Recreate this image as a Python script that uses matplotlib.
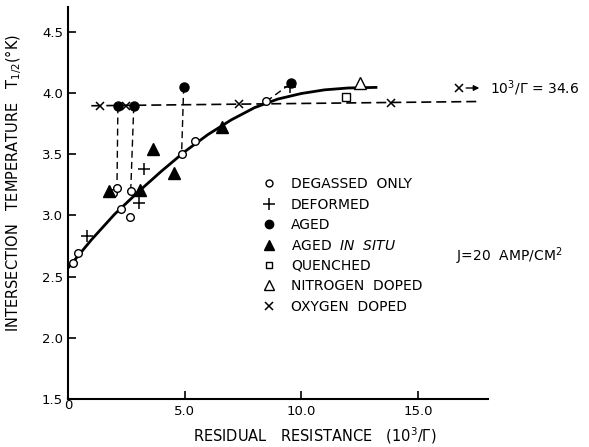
import matplotlib
matplotlib.use('Agg')
import matplotlib.pyplot as plt
from matplotlib.lines import Line2D

# degassed only (open circles)
degassed_x = [0.21, 0.43, 1.93, 2.10, 2.27, 2.65, 2.69, 4.87, 5.43, 8.50]
degassed_y = [2.61, 2.69, 3.18, 3.22, 3.05, 2.99, 3.20, 3.50, 3.61, 3.93]
# deformed (+)
deformed_x = [0.81, 3.03, 3.25, 9.50]
deformed_y = [2.83, 3.10, 3.38, 4.05]
# aged (filled circles)
aged_x = [2.14, 2.82, 4.96, 9.57]
aged_y = [3.89, 3.89, 4.05, 4.08]
# aged in situ (filled triangles)
insitu_x = [1.74, 3.08, 3.63, 4.53, 6.62]
insitu_y = [3.20, 3.21, 3.54, 3.35, 3.72]
# quenched, nitrogen doped
quenched_x, quenched_y = [11.9], [3.97]
nitrogen_x, nitrogen_y = [12.5], [4.08]
# oxygen doped (x)
oxygen_x = [1.37, 2.50, 7.35, 13.85]
oxygen_y = [3.89, 3.89, 3.91, 3.92]

# smooth curve
curve_x = [0, 1, 2, 3, 4, 5, 6, 7, 8, 9, 10, 11, 12, 13.2]
curve_y = [2.57, 2.80, 3.01, 3.19, 3.36, 3.52, 3.66, 3.78, 3.88, 3.95, 3.995, 4.025, 4.04, 4.045]

# horizontal dashed level (oxygen doped, 10^3/Gamma = 34.6)
level_x = [1.0, 17.7]
level_y = [3.895, 3.93]

# dashed connectors: aged -> degassed
links = [((2.14, 2.10), (3.89, 3.22)),
         ((2.82, 2.69), (3.89, 3.20)),
         ((4.96, 4.87), (4.05, 3.50)),
         ((8.50, 9.57), (3.93, 4.08))]

fig = plt.figure(figsize=(5.89, 4.47), dpi=100)
ax = fig.add_axes([0.1154, 0.107, 0.713, 0.877])

ax.plot(curve_x, curve_y, color='black', lw=2.0, zorder=2)
ax.plot(level_x, level_y, color='black', lw=1.2, dashes=(6, 3), zorder=1)
for lx, ly in links:
    ax.plot(lx, ly, color='black', lw=1.0, dashes=(5, 3), zorder=1)

mk = dict(color='black', linestyle='none', zorder=3)
ax.plot(degassed_x, degassed_y, marker='o', mfc='white', mec='black', ms=5.5, mew=1.0, **mk)
ax.plot(deformed_x, deformed_y, marker='+', ms=8, mew=1.1, **mk)
ax.plot(aged_x, aged_y, marker='o', ms=6.5, **mk)
ax.plot(insitu_x, insitu_y, marker='^', ms=8, **mk)
ax.plot(quenched_x, quenched_y, marker='s', mfc='white', mec='black', ms=5.5, mew=1.0, **mk)
ax.plot(nitrogen_x, nitrogen_y, marker='^', mfc='white', mec='black', ms=8, mew=1.0, **mk)
ax.plot(oxygen_x, oxygen_y, marker='x', ms=6, mew=1.1, **mk)

# note at right
ax.plot([16.75], [4.04], marker='x', ms=6, mew=1.1, **mk, clip_on=False)
ax.annotate('', xy=(17.75, 4.04), xytext=(16.95, 4.04),
            arrowprops=dict(arrowstyle='-|>', color='black', lw=1.0, mutation_scale=8),
            annotation_clip=False)
ax.text(18.1, 4.04, r'10$^3$/Γ = 34.6', fontsize=10, va='center', ha='left', clip_on=False)

ax.text(18.9, 2.67, r'J=20  AMP/CM$^2$', fontsize=10, ha='center', va='center', clip_on=False)

handles = [
    Line2D([], [], marker='o', mfc='white', mec='black', ms=5, linestyle='none'),
    Line2D([], [], marker='+', color='black', ms=8, mew=1.1, linestyle='none'),
    Line2D([], [], marker='o', color='black', ms=6, linestyle='none'),
    Line2D([], [], marker='^', color='black', ms=7, linestyle='none'),
    Line2D([], [], marker='s', mfc='white', mec='black', ms=5, linestyle='none'),
    Line2D([], [], marker='^', mfc='white', mec='black', ms=7, linestyle='none'),
    Line2D([], [], marker='x', color='black', ms=6, mew=1.1, linestyle='none'),
]
labels = ['DEGASSED  ONLY', 'DEFORMED', 'AGED', r'AGED  $\mathit{IN\ \ SITU}$',
          'QUENCHED', 'NITROGEN  DOPED', 'OXYGEN  DOPED']
ax.legend(handles, labels, loc='upper left', bbox_to_anchor=(0.445, 0.58),
          frameon=False, fontsize=10, handlelength=1.2, handletextpad=1.0,
          labelspacing=0.46, borderaxespad=0)

ax.set_xlim(0, 18)
ax.set_ylim(1.5, 4.7)
ax.set_xticks([5, 10, 15])
ax.set_xticklabels(['5.0', '10.0', '15.0'])
ax.set_yticks([1.5, 2.0, 2.5, 3.0, 3.5, 4.0, 4.5])
ax.set_yticklabels(['1.5', '2.0', '2.5', '3.0', '3.5', '4.0', '4.5'])
ax.tick_params(direction='in', length=6, width=1.2, labelsize=9.5)
ax.xaxis.set_tick_params(pad=4)
ax.text(0, 1.5, '0', fontsize=9.5, ha='center', va='top')
for s in ['top', 'right']:
    ax.spines[s].set_visible(False)
for s in ['left', 'bottom']:
    ax.spines[s].set_linewidth(1.5)

ax.set_xlabel(r'RESIDUAL   RESISTANCE   (10$^3$/Γ)', fontsize=10.5, va='center')
ax.xaxis.set_label_coords(0.588, -0.093)
ax.set_ylabel(r'INTERSECTION   TEMPERATURE   T$_{1/2}$(°K)', fontsize=10.5)
ax.yaxis.set_label_coords(-0.105, 0.553)

fig.savefig('out.png', dpi=100)
